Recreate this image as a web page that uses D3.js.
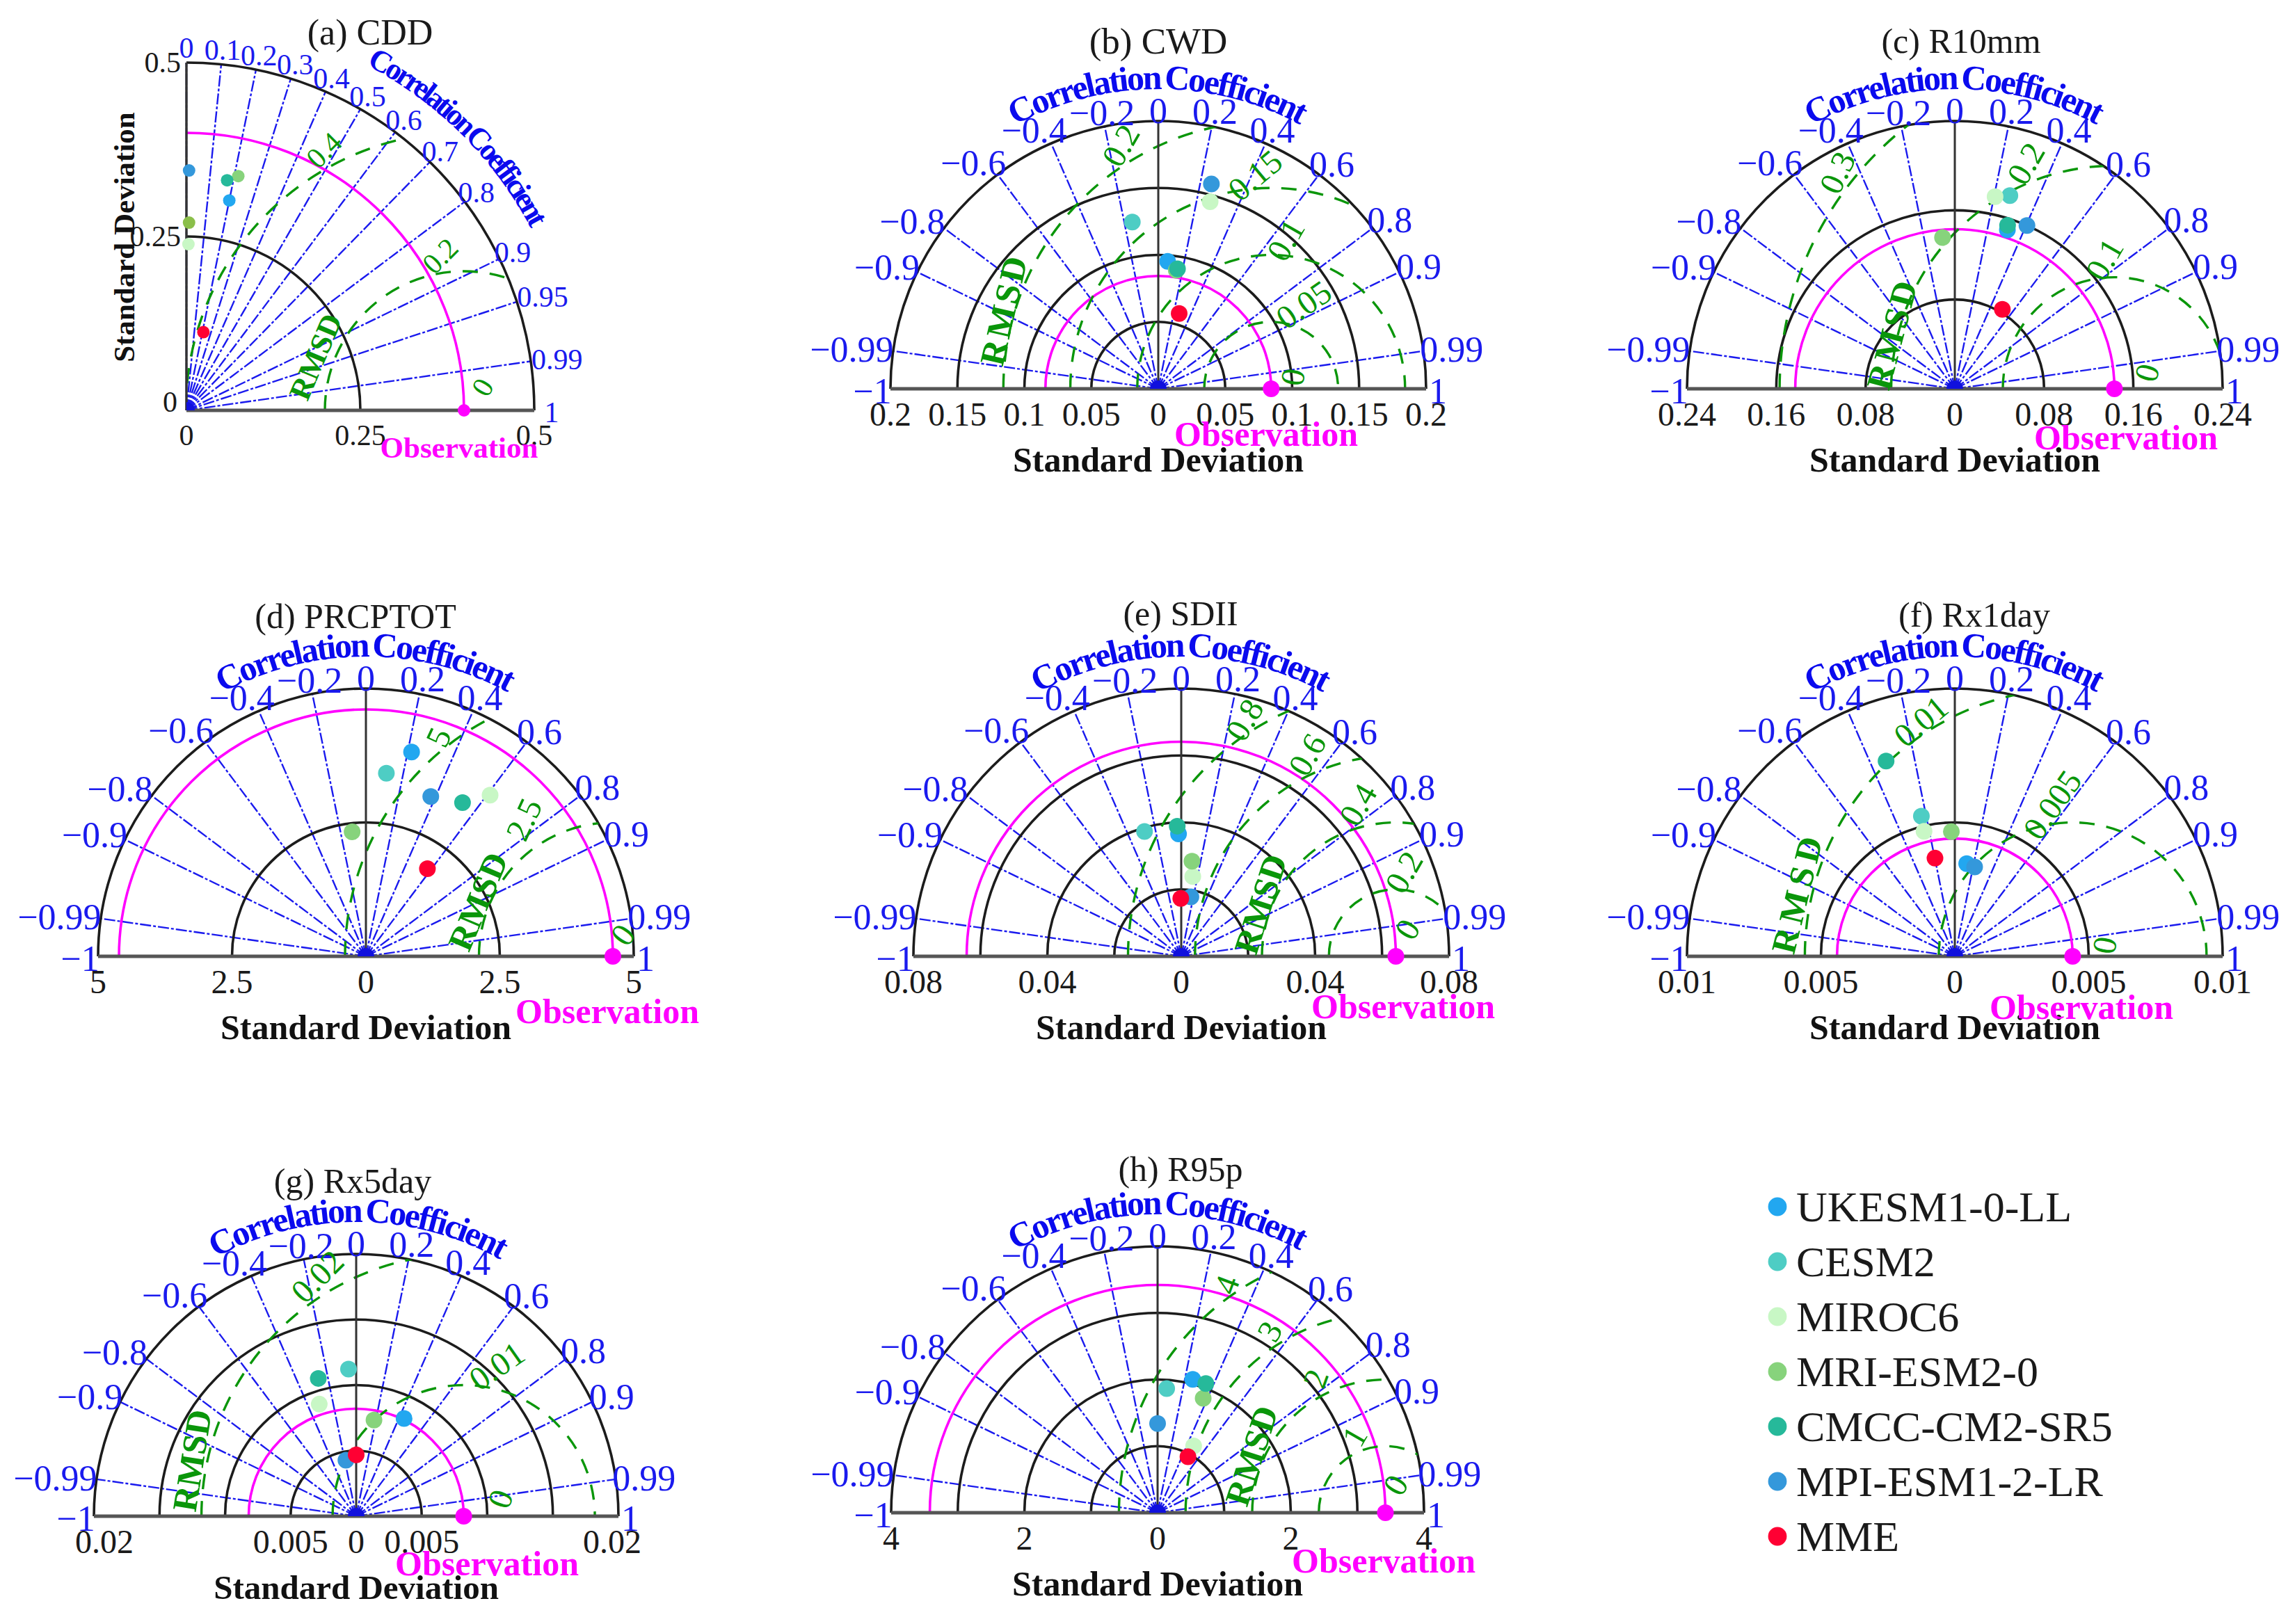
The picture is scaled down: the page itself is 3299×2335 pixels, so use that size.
<!DOCTYPE html>
<html>
<head>
<meta charset="utf-8">
<script src="https://cdn.jsdelivr.net/npm/d3@7"></script>
<style>
  html, body { margin: 0; background: #fff; }
  text { font-family: "Liberation Serif", serif; }
</style>
</head>
<body>
<div id="chart"></div>
<script>
// models, same order in every std / corr list
var models = ['UKESM1-0-LL', 'CESM2', 'MIROC6', 'MRI-ESM2-0', 'CMCC-CM2-SR5', 'MPI-ESM1-2-LR', 'MME'];
var modelColors = ['#22a7f0', '#4ecdc4', '#c8f7c5', '#87d37c', '#26b99a', '#3498db', '#ff0033'];

var titles = ['(a) CDD', '(b) CWD', '(c) R10mm', '(d) PRCPTOT', '(e) SDII', '(f) Rx1day', '(g) Rx5day', '(h) R95p'];
var stdMax = [0.5, 0.2, 0.24, 5, 0.08, 0.01, 0.02, 4];
var obsStd = [0.399, 0.0843, 0.143, 4.61, 0.0641, 0.0044, 0.0082, 3.42];

var stdValues = [
  [0.308, 0.27, 0.239, 0.345, 0.336, 0.345, 0.115],
  [0.0955, 0.126, 0.145, 0.0896, 0.0907, 0.158, 0.0584],
  [0.150, 0.180, 0.176, 0.136, 0.154, 0.160, 0.083],
  [3.91, 3.44, 3.80, 2.34, 3.39, 3.22, 2.0],
  [0.0366, 0.0389, 0.0241, 0.0286, 0.0389, 0.018, 0.0173],
  [0.00349, 0.00538, 0.00481, 0.00466, 0.00773, 0.00342, 0.00374],
  [0.0083, 0.01124, 0.0090, 0.00746, 0.0109, 0.00434, 0.00468],
  [2.07, 1.87, 1.14, 1.85, 2.07, 1.34, 0.956]
];
var corrValues = [
  [0.2, 0.014, 0.012, 0.216, 0.174, 0.011, 0.212],
  [0.073, -0.154, 0.267, 0.15, 0.158, 0.251, 0.267],
  [0.314, 0.274, 0.205, -0.081, 0.307, 0.404, 0.513],
  [0.218, 0.111, 0.61, -0.11, 0.532, 0.376, 0.574],
  [-0.022, -0.282, 0.143, 0.112, -0.031, 0.16, -0.008],
  [0.127, -0.232, -0.239, -0.028, -0.332, 0.216, -0.198],
  [0.44, -0.052, -0.313, 0.182, -0.265, -0.18, 0],
  [0.255, 0.073, 0.475, 0.37, 0.35, 0, 0.477]
];

// black std circles, and which of them get a label
var stdGrid = [
  [0.25, 0.5], [0.05, 0.1, 0.15, 0.2], [0.08, 0.16, 0.24], [2.5, 5],
  [0.02, 0.04, 0.06, 0.08], [0.005, 0.01], [0.005, 0.01, 0.015, 0.02], [1, 2, 3, 4]
];
var stdTickLabels = [
  ['0.25', '0.5'], ['0.05', '0.1', '0.15', '0.2'], ['0.08', '0.16', '0.24'], ['2.5', '5'],
  ['0.04', '0.08'], ['0.005', '0.01'], ['0.005', '0.02'], ['2', '4']
];

// green centred-RMS circles and their printed labels (e is printed x10)
var rmsRadii = [
  [0.2, 0.4], [0.05, 0.1, 0.15, 0.2], [0.1, 0.2, 0.3], [2.5, 5],
  [0.02, 0.04, 0.06, 0.08], [0.005, 0.01], [0.01, 0.02], [1, 2, 3, 4]
];
var rmsLabels = [
  ['0.2', '0.4'], ['0.05', '0.1', '0.15', '0.2'], ['0.1', '0.2', '0.3'], ['2.5', '5'],
  ['0.2', '0.4', '0.6', '0.8'], ['0.005', '0.01'], ['0.01', '0.02'], ['1', '2', '3', '4']
];

var corrTicksQuarter = [0, 0.1, 0.2, 0.3, 0.4, 0.5, 0.6, 0.7, 0.8, 0.9, 0.95, 0.99, 1];
var corrTicksHalf = [-1, -0.99, -0.9, -0.8, -0.6, -0.4, -0.2, 0, 0.2, 0.4, 0.6, 0.8, 0.9, 0.99, 1];

// ---- layout, pixels ----
var width = 3299, height = 2335;
var layout = [
  { x: 268, y: 590, r: 500, tx: 532, ty: 46, obs: [392, 53], rms: [186, 77, -67], zeroRms: [426, 33, -60],
    rmsSpots: [[365, 222, -45], [198, 374, -45]] },
  { x: 1665, y: 559, r: 385, tx: 1665, ty: 59, obs: [155, 65], rms: [-222, 114, -77], zeroRms: [193, 17, -80],
    rmsSpots: [[209, 121, -35], [183, 214, -60], [139, 307, -40], [-54, 350, -60]] },
  { x: 2810, y: 559, r: 385, tx: 2819, ty: 59, obs: [246, 70], rms: [-90, 79, -75], zeroRms: [276, 23, -75],
    rmsSpots: [[215, 186, -60], [102, 324, -60], [-169, 311, -65]] },
  { x: 526, y: 1375, r: 385, tx: 511, ty: 886, obs: [347, 79], rms: [161, 79, -67], zeroRms: [369, 31, -55],
    rmsSpots: [[227, 197, -65], [104, 315, -65]] },
  { x: 1698, y: 1375, r: 385, tx: 1697, ty: 882, obs: [319, 72], rms: [114, 75, -72], zeroRms: [325, 39, -60],
    rmsSpots: [[320, 121, -60], [254, 218, -60], [181, 290, -60], [91, 340, -60]] },
  { x: 2810, y: 1375, r: 385, tx: 2838, ty: 884, obs: [182, 73], rms: [-226, 92, -76], zeroRms: [215, 16, -80],
    rmsSpots: [[140, 218, -55], [-49, 338, -40]] },
  { x: 512, y: 2180, r: 377, tx: 507, ty: 1698, obs: [188, 68], rms: [-236, 80, -81], zeroRms: [207, 25, -70],
    rmsSpots: [[202, 216, -35], [-56, 345, -45]] },
  { x: 1664, y: 2175, r: 383, tx: 1697, ty: 1681, obs: [325, 69], rms: [135, 82, -72], zeroRms: [342, 40, -60],
    rmsSpots: [[283, 110, -60], [227, 193, -70], [161, 261, -60], [99, 328, -70]] }
];

var blue = '#1a1aee', green = '#0a960a', magenta = '#ff00ff';

var svg = d3.select('#chart').append('svg')
  .attr('width', width).attr('height', height)
  .attr('viewBox', [0, 0, width, height])
  .style('display', 'block');

function minusSign(v) { return String(v).replace('-', '\u2212'); }

// one way arc, angles counted from 12 o'clock like d3.arc
// (d3.arc with inner = outer goes there and back, which spoils dashes)
function oneWayArc(radius, a0, a1) {
  var p = d3.path();
  p.arc(0, 0, radius, a0 - Math.PI / 2, a1 - Math.PI / 2);
  return p.toString();
}

// offsets of the blue labels on the half panels: radial gap, then nudges
function corrLabelGap(c) {
  var a = Math.abs(c);
  if (c === 0) return 15;
  if (c > 0) return a >= 0.99 ? 41 : a >= 0.6 ? 31 : a >= 0.4 ? 25 : 22;
  return a >= 0.99 ? 55 : a >= 0.9 ? 43 : a >= 0.8 ? 42 : a >= 0.6 ? 38 : a >= 0.4 ? 31 : 20;
}
function corrNudgeX(c) {
  if (c >= 0) return 0;
  return c <= -0.9 ? -5 : c <= -0.4 ? -12 : 0;
}
function corrNudgeY(c) {
  var a = Math.abs(c);
  if (c < 0) return a >= 0.99 ? 6 : a >= 0.9 ? 12 : a >= 0.8 ? 16 : a >= 0.6 ? 14 : a >= 0.4 ? 10 : 0;
  return a >= 0.99 ? 4 : a >= 0.9 ? 6 : a >= 0.8 ? 7 : a >= 0.6 ? 10 : a >= 0.4 ? 4 : 0;
}

titles.forEach(function(title, i) {
  var L = layout[i];
  var quarter = i === 0;
  var rScale = d3.scaleLinear().domain([0, stdMax[i]]).range([0, L.r]);
  var angle = function(c) { return Math.PI / 2 - Math.acos(c); };
  var startA = quarter ? 0 : -Math.PI / 2;
  var obsX = rScale(obsStd[i]);
  var clipId = 'clip' + i;

  var g = svg.append('g').attr('transform', 'translate(' + L.x + ',' + L.y + ')');

  g.append('clipPath').attr('id', clipId).append('path')
    .attr('d', d3.arc()({ innerRadius: 0, outerRadius: L.r, startAngle: startA, endAngle: Math.PI / 2 }));

  // correlation spokes
  var ticks = quarter ? corrTicksQuarter : corrTicksHalf;
  g.selectAll('.spoke').data(ticks.filter(function(c) { return Math.abs(c) < 1 && (quarter || c !== 0); }))
    .enter().append('line')
    .attr('x1', 0).attr('y1', 0)
    .attr('x2', function(c) { return L.r * c; })
    .attr('y2', function(c) { return -L.r * Math.sqrt(1 - c * c); })
    .attr('stroke', blue).attr('stroke-width', 2.4)
    .attr('stroke-dasharray', '16 3 4 3');

  // std circles
  g.selectAll('.stdring').data(stdGrid[i]).enter().append('path')
    .attr('d', function(d) { return oneWayArc(rScale(d), startA, Math.PI / 2); })
    .attr('fill', 'none').attr('stroke', '#1c1c1c').attr('stroke-width', 3.6);

  // observation circle
  g.append('path').attr('d', oneWayArc(obsX, startA, Math.PI / 2))
    .attr('fill', 'none').attr('stroke', magenta).attr('stroke-width', 3.6);

  // centred RMS circles round the observation point
  g.append('g').attr('clip-path', 'url(#' + clipId + ')')
    .selectAll('path').data(rmsRadii[i]).enter().append('path')
    .attr('transform', 'translate(' + obsX + ',0)')
    .attr('d', function(d) { return oneWayArc(rScale(d), -Math.PI / 2, Math.PI / 2); })
    .attr('fill', 'none').attr('stroke', green).attr('stroke-width', 3.4)
    .attr('stroke-dasharray', '22 17');

  // axes frame
  g.append('line').attr('x1', 0).attr('y1', 0).attr('x2', 0).attr('y2', -L.r)
    .attr('stroke', '#333').attr('stroke-width', quarter ? 3.5 : 3);
  g.append('line').attr('x1', quarter ? 0 : -L.r).attr('y1', 0).attr('x2', L.r).attr('y2', 0)
    .attr('stroke', '#555').attr('stroke-width', 5);

  // centre hub where the spokes pile up
  g.append('path')
    .attr('d', d3.arc()({ innerRadius: 0, outerRadius: 12, startAngle: startA, endAngle: Math.PI / 2 }))
    .attr('fill', '#1010dd');

  // blue correlation labels
  var corrSize = quarter ? 42 : 52;
  g.selectAll('.corrlab').data(ticks).enter().append('text')
    .attr('font-size', corrSize).attr('fill', blue)
    .attr('text-anchor', 'middle').attr('dominant-baseline', 'central')
    .attr('x', function(c) {
      if (quarter) {
        if (c === 1) return L.r + 25;
        return (L.r + 21) * c + (c === 0.95 || c === 0.99 ? 17 : 0);
      }
      if (c === 1) return L.r + 17;
      if (c === -1) return -L.r - 26;
      return (L.r + corrLabelGap(c)) * c + corrNudgeX(c);
    })
    .attr('y', function(c) {
      if (quarter) return c === 1 ? 3 : -(L.r + 21) * Math.sqrt(1 - c * c);
      if (Math.abs(c) === 1) return 3;
      return -(L.r + corrLabelGap(c)) * Math.sqrt(1 - c * c) + corrNudgeY(c);
    })
    .text(function(c) { return minusSign(c); });

  // black std labels along the base
  var stdSize = quarter ? 42 : 48;
  var baseTicks = [{ v: 0, t: '0' }];
  stdTickLabels[i].forEach(function(t) {
    baseTicks.push({ v: +t, t: t });
    if (!quarter) baseTicks.push({ v: -t, t: t });
  });
  g.selectAll('.stdlab').data(baseTicks).enter().append('text')
    .attr('font-size', stdSize).attr('fill', '#1a1a1a')
    .attr('text-anchor', 'middle').attr('dominant-baseline', 'central')
    .attr('x', function(d) {
      var p = d.v < 0 ? -rScale(-d.v) : rScale(d.v);
      if (i === 6 && Math.abs(d.v) === 0.02) p += d.v < 0 ? 15 : -9;
      return p;
    })
    .attr('y', 36)
    .text(function(d) { return d.t; });

  if (quarter) {
    g.selectAll('.ylab').data(baseTicks).enter().append('text')
      .attr('font-size', stdSize).attr('fill', '#1a1a1a')
      .attr('text-anchor', 'end').attr('dominant-baseline', 'central')
      .attr('x', function(d) { return d.v === 0 ? -13 : -8; })
      .attr('y', function(d) { return d.v === 0 ? -12 : -rScale(d.v); })
      .text(function(d) { return d.t; });
    g.append('text').attr('font-size', 43).attr('font-weight', 'bold').attr('fill', '#111')
      .attr('text-anchor', 'middle').attr('dominant-baseline', 'central')
      .attr('transform', 'translate(-90,-249) rotate(-90)')
      .text('Standard Deviation');
  } else {
    g.append('text').attr('font-size', i === 6 ? 49 : 50).attr('font-weight', 'bold').attr('fill', '#111')
      .attr('text-anchor', 'middle').attr('dominant-baseline', 'central')
      .attr('x', 0).attr('y', 102)
      .text('Standard Deviation');
  }

  // curved axis name, arc runs on past the text so nothing gets cut
  var capR = quarter ? L.r + 60 : L.r + 46;
  var capStart = quarter ? 27.5 : -28.5;
  var capEnd = quarter ? 80 : 50;
  var capId = 'cap' + i;
  g.append('path').attr('id', capId).attr('fill', 'none')
    .attr('d', oneWayArc(capR, capStart * Math.PI / 180, capEnd * Math.PI / 180));
  g.append('text')
    .attr('font-size', quarter ? 44 : 50).attr('font-weight', 'bold').attr('fill', '#0a0aee')
    .attr('letter-spacing', quarter ? -4.2 : -2.9)
    .attr('word-spacing', -4)
    .append('textPath').attr('href', '#' + capId).attr('startOffset', 0)
    .text('Correlation Coefficient');

  // green labels
  var rmsSize = quarter ? 42 : 48;
  var greens = L.rmsSpots.map(function(s, k) { return { spot: s, t: rmsLabels[i][k] }; });
  greens.push({ spot: L.zeroRms, t: '0' });
  g.selectAll('.rmslab').data(greens).enter().append('text')
    .attr('font-size', rmsSize).attr('fill', green)
    .attr('text-anchor', 'middle').attr('dominant-baseline', 'central')
    .attr('transform', function(d) {
      return 'translate(' + d.spot[0] + ',' + (-d.spot[1]) + ') rotate(' + d.spot[2] + ')';
    })
    .text(function(d) { return d.t; });
  g.append('text').attr('font-size', quarter ? 44 : 50).attr('font-weight', 'bold').attr('fill', green)
    .attr('text-anchor', 'middle').attr('dominant-baseline', 'central')
    .attr('letter-spacing', i === 5 ? 8 : i === 1 || i === 2 ? 4 : 0)
    .attr('transform', 'translate(' + L.rms[0] + ',' + (-L.rms[1]) + ') rotate(' + L.rms[2] + ')')
    .text('RMSD');

  // observation
  g.append('text').attr('font-size', quarter ? 43 : 50).attr('font-weight', 'bold').attr('fill', magenta)
    .attr('text-anchor', 'middle').attr('dominant-baseline', 'central')
    .attr('x', L.obs[0]).attr('y', L.obs[1])
    .text('Observation');
  g.append('circle').attr('cx', obsX).attr('cy', 0).attr('r', quarter ? 9 : 12).attr('fill', magenta);

  // model markers
  var pts = models.map(function(m, k) {
    return { std: stdValues[i][k], corr: corrValues[i][k], k: k };
  });
  g.selectAll('.pt').data(pts).enter().append('circle')
    .attr('cx', function(d) { return rScale(d.std) * Math.sin(angle(d.corr)); })
    .attr('cy', function(d) { return -rScale(d.std) * Math.cos(angle(d.corr)); })
    .attr('r', quarter ? 9 : 12)
    // CESM2 shows olive in panel a
    .attr('fill', function(d) { return quarter && d.k === 1 ? '#8bbf4a' : modelColors[d.k]; });

  // title
  svg.append('text').attr('font-size', quarter ? 52 : i === 1 ? 53 : 50).attr('fill', '#1a1a1a')
    .attr('text-anchor', 'middle').attr('dominant-baseline', 'central')
    .attr('x', L.tx).attr('y', L.ty)
    .text(title);
});

// legend
var legendY = d3.scalePoint().domain(models).range([1735, 2209]);
var legend = svg.append('g').selectAll('g').data(models).enter().append('g')
  .attr('transform', function(m) { return 'translate(2555,' + legendY(m) + ')'; });
legend.append('circle').attr('r', 13.4)
  .attr('fill', function(m, k) { return modelColors[k]; });
legend.append('text').attr('x', 27).attr('font-size', 62).attr('fill', '#1a1a1a')
  .attr('dominant-baseline', 'central')
  .text(function(m) { return m; });
</script>
</body>
</html>
